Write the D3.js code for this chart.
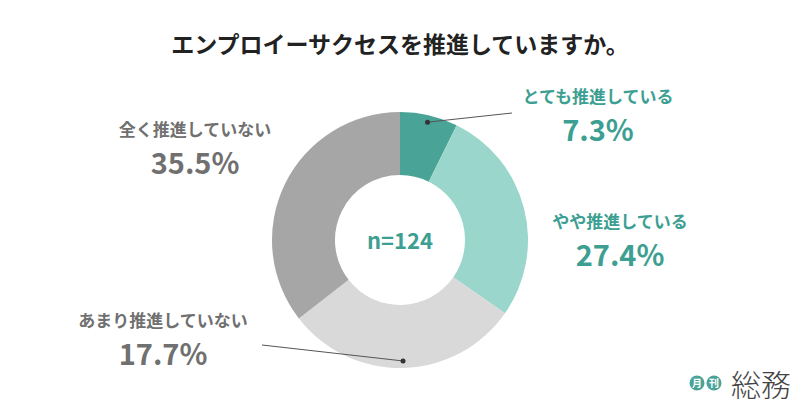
<!DOCTYPE html>
<html><head><meta charset="utf-8">
<script src="https://cdn.jsdelivr.net/npm/d3@7"></script>
<style>body{margin:0;background:#fff}text{font-family:"Noto Sans CJK JP","Noto Sans",sans-serif}</style>
</head><body><svg id="c" width="800" height="419"></svg>
<script>
// data
const labels = ['とても推進している', 'やや推進している', 'あまり推進していない', '全く推進していない']
const values = [7.3, 27.4, 29.8, 35.5]
const shown = ['7.3%', '27.4%', '17.7%', '35.5%']
const colors = ['#4aa397', '#9ad6cc', '#d9d9d9', '#a6a6a6']
const textColors = ['#3d9f92', '#3d9f92', '#707070', '#707070']

const svg = d3.select('#c')
svg.append('text').attr('x', 400).attr('y', 53).attr('text-anchor', 'middle')
   .attr('font-size', 23).attr('font-weight', 'bold').attr('fill', '#222')
   .text('エンプロイーサクセスを推進していますか。')

const cx = 400, cy = 240, rOut = 128, rIn = 65
const g = svg.append('g').attr('transform', 'translate(' + cx + ',' + cy + ')')
const arcs = d3.pie().sort(null)(values)
const arc = d3.arc().innerRadius(rIn).outerRadius(rOut)
const dotArc = d3.arc().innerRadius(121).outerRadius(121)
g.selectAll('path').data(arcs).enter().append('path')
 .attr('d', arc).attr('fill', (d, i) => colors[i])

g.append('text').attr('y', 9).attr('text-anchor', 'middle').attr('font-size', 22)
 .attr('font-weight', 'bold').attr('fill', '#3d9f92').text('n=124')

// label positions
const pos = [[598, 103], [620, 228], [163, 327], [195, 136]]
pos.forEach(function (p, i) {
  svg.append('text').attr('x', p[0]).attr('y', p[1]).attr('text-anchor', 'middle')
     .attr('font-size', 17).attr('font-weight', 'bold').attr('fill', textColors[i]).text(labels[i])
  svg.append('text').attr('x', p[0]).attr('y', p[1] + 38).attr('text-anchor', 'middle')
     .attr('font-size', 29).attr('font-weight', 'bold').attr('fill', textColors[i]).text(shown[i])
})

// leader lines
function leader(d, x2, y2) {
  const c = dotArc.centroid(d)
  svg.append('line').attr('x1', cx + c[0]).attr('y1', cy + c[1]).attr('x2', x2).attr('y2', y2)
     .attr('stroke', '#555').attr('stroke-width', 1)
  svg.append('circle').attr('cx', cx + c[0]).attr('cy', cy + c[1]).attr('r', 2.5).attr('fill', '#333')
}
leader(arcs[0], 512, 113)
leader(arcs[2], 262, 345)

// logo
const lg = svg.append('g')
;[['月', 697], ['刊', 714]].forEach(function (d) {
  lg.append('circle').attr('cx', d[1]).attr('cy', 383).attr('r', 7.5).attr('fill', '#4aa397')
  lg.append('text').attr('x', d[1]).attr('y', 387).attr('text-anchor', 'middle').attr('font-size', 10)
    .attr('font-weight', 'bold').attr('fill', '#fff').text(d[0])
})
lg.append('text').attr('x', 731).attr('y', 396).attr('font-size', 30).attr('font-weight', 300)
  .attr('fill', '#444').text('総務')
</script></body></html>
